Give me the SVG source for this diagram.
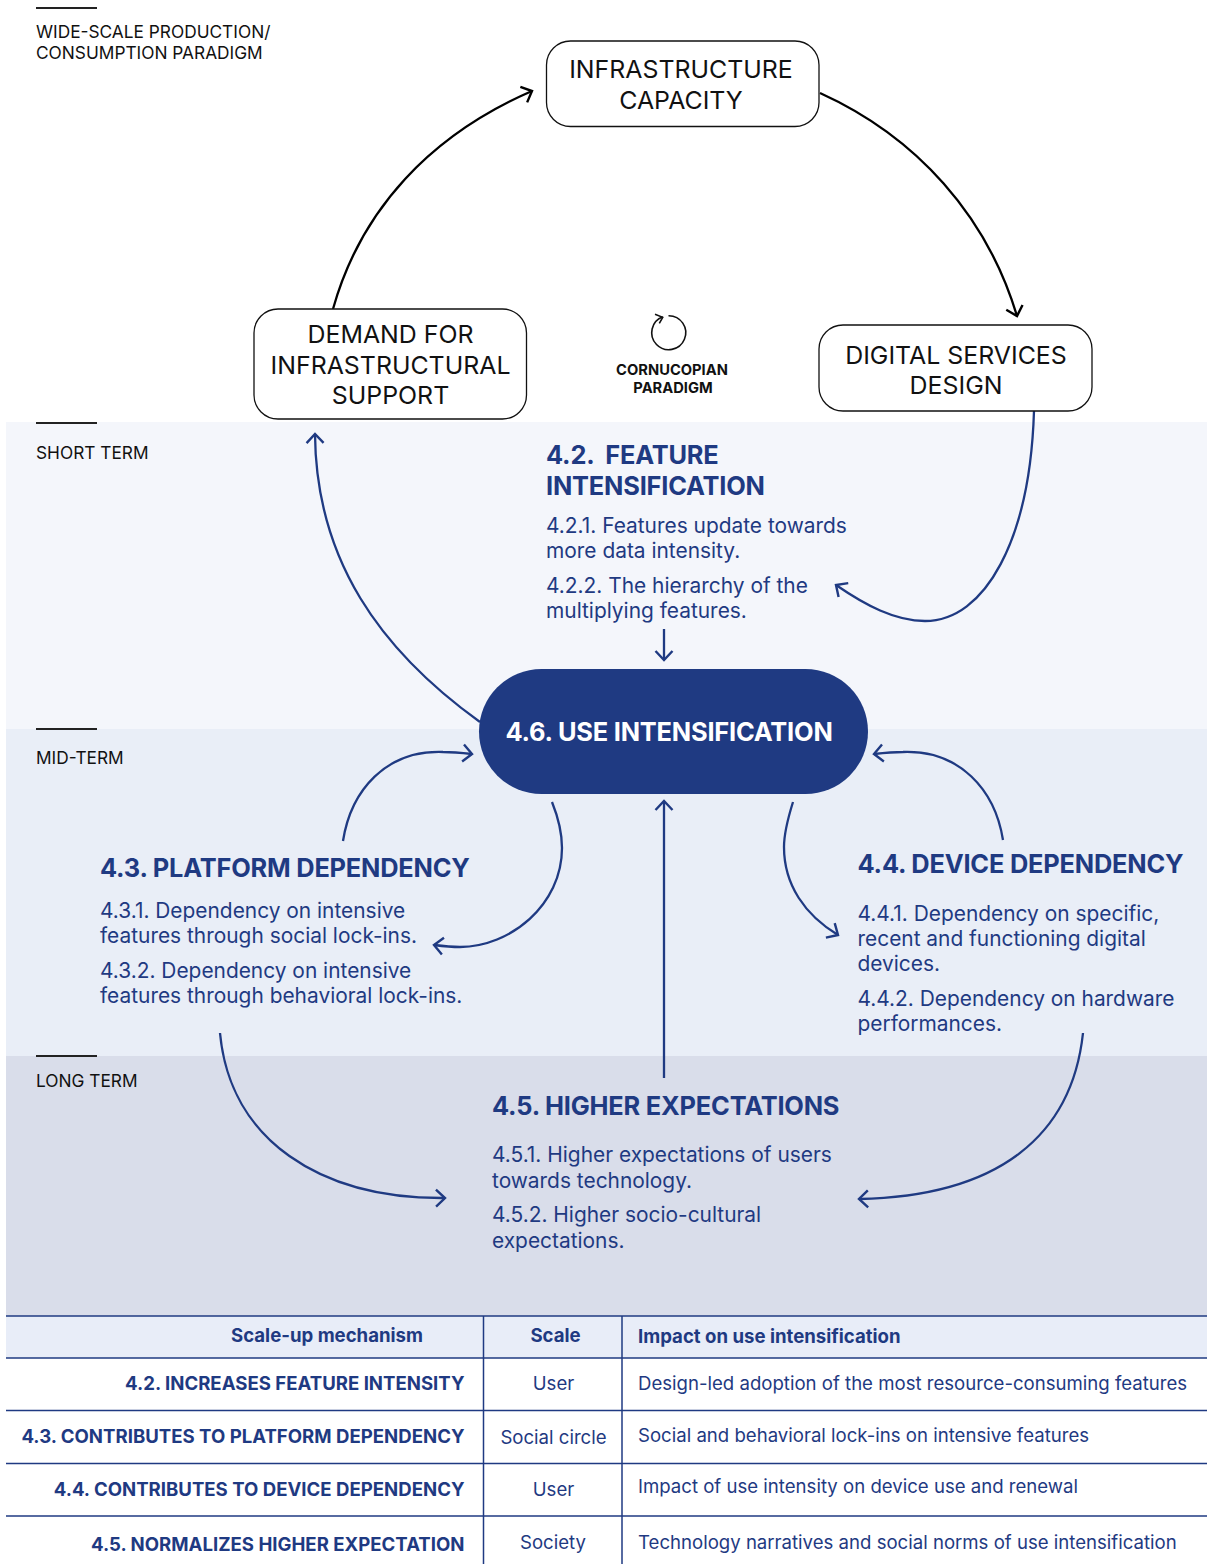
<svg xmlns="http://www.w3.org/2000/svg" width="1207" height="1564" viewBox="0 0 1207 1564">
<defs>
<marker id="ab" markerUnits="userSpaceOnUse" markerWidth="24" markerHeight="24" refX="14" refY="12" orient="auto"><path d="M5 3.500L14 12L5 20.500" fill="none" stroke="#000" stroke-width="2.400"/></marker>
<marker id="an" markerUnits="userSpaceOnUse" markerWidth="24" markerHeight="24" refX="14" refY="12" orient="auto"><path d="M5 3.500L14 12L5 20.500" fill="none" stroke="#1f3a82" stroke-width="2.400"/></marker>
</defs>
<style>
text{font-family:Inter,"Liberation Sans",sans-serif}
.box{fill:#fff;stroke:#111;stroke-width:1.300}
.bt{font-size:24.900px;fill:#111;text-anchor:middle}
.lab{font-size:17.300px;fill:#111}
.rule{stroke:#222;stroke-width:2}
.cb{fill:none;stroke:#000;stroke-width:2.300;marker-end:url(#ab)}
.cn{fill:none;stroke:#1f3a82;stroke-width:2.300;marker-end:url(#an)}
.h{font-size:25.400px;font-weight:700;fill:#1f3a82;letter-spacing:-0.2px}
.p{font-size:20.900px;fill:#1f3a82}
.tl{stroke:#1f3a82;stroke-width:1.500}
.th{font-size:18.600px;font-weight:700;fill:#1f3a82}
.td{font-size:18.600px;fill:#1f3a82}
.m{text-anchor:middle}.e{text-anchor:end}
</style>
<g id="bands">
<rect x="6" y="422" width="1201" height="307" fill="#f4f6fb"/>
<rect x="6" y="729" width="1201" height="327" fill="#e9eef7"/>
<rect x="6" y="1056" width="1201" height="260" fill="#d9ddea"/>
<rect x="6" y="1316" width="1201" height="42" fill="#e8edf8"/>
</g>
<g id="labels">
<line class="rule" x1="36" y1="8" x2="97" y2="8"/>
<text class="lab"><tspan x="36" y="38">WIDE-SCALE PRODUCTION/</tspan><tspan x="36" y="59">CONSUMPTION PARADIGM</tspan></text>
<line class="rule" x1="36" y1="423" x2="97" y2="423"/>
<text class="lab" x="36" y="459">SHORT TERM</text>
<line class="rule" x1="36" y1="729" x2="97" y2="729"/>
<text class="lab" x="36" y="764">MID-TERM</text>
<line class="rule" x1="36" y1="1056" x2="97" y2="1056"/>
<text class="lab" x="36" y="1087">LONG TERM</text>
</g>
<g id="connectors">
<path class="cb" d="M333 309C361 209 431 135 532 91"/>
<path class="cb" d="M820 93C917 137 987 216 1017 316"/>
<path class="cn" d="M1034 411C1030 540 985 621 925 621C895 621 865 605 836 585"/>
<path class="cn" d="M480 722C380 650 316 560 315 434"/>
<path class="cn" d="M664 629V660"/>
<path class="cn" d="M343 841C351 790 386 750 443 752C453 752 463 753 472 754"/>
<path class="cn" d="M552 802C560 822 562 838 562 848C562 905 510 947 460 947C450 947 442 946 434 945"/>
<path class="cn" d="M1003 840C995 790 960 750 903 752C892 752 883 753 874 754"/>
<path class="cn" d="M793 802C788 818 784 832 784 847C784 885 805 915 838 935"/>
<path class="cn" d="M664 1078V801"/>
<path class="cn" d="M220 1033C230 1140 320 1199 445 1198"/>
<path class="cn" d="M1083 1033C1072 1135 1000 1196 859 1199"/>
</g>
<g id="infrastructure-capacity">
<rect class="box" x="546.500" y="41" width="272.500" height="85.500" rx="24"/>
<text class="bt"><tspan x="681" y="78">INFRASTRUCTURE</tspan><tspan x="681" y="108.500">CAPACITY</tspan></text>
</g>
<g id="demand">
<rect class="box" x="254" y="309" width="272.500" height="110" rx="24"/>
<text class="bt"><tspan x="390.500" y="343">DEMAND FOR</tspan><tspan x="390.500" y="374">INFRASTRUCTURAL</tspan><tspan x="390.500" y="404">SUPPORT</tspan></text>
</g>
<g id="digital-services">
<rect class="box" x="819" y="325" width="273" height="86" rx="24"/>
<text class="bt"><tspan x="956" y="364">DIGITAL SERVICES</tspan><tspan x="956" y="394">DESIGN</tspan></text>
</g>
<g id="cornucopian">
<path d="M668.500 315.700A17 17 0 1 1 662.700 316.800" fill="none" stroke="#111" stroke-width="1.600"/>
<path d="M655 314.300L662.700 317.300L659.300 323.300" fill="none" stroke="#111" stroke-width="1.600"/>
<text font-size="14.700" font-weight="700" fill="#111" class="m"><tspan x="672" y="375">CORNUCOPIAN</tspan><tspan x="673" y="393">PARADIGM</tspan></text>
</g>
<g id="n42">
<text class="h" xml:space="preserve"><tspan x="546" y="464">4.2.  FEATURE</tspan><tspan x="546" y="495">INTENSIFICATION</tspan></text>
<text class="p"><tspan x="546" y="533">4.2.1. Features update towards</tspan><tspan x="546" y="558">more data intensity.</tspan><tspan x="546" y="593">4.2.2. The hierarchy of the</tspan><tspan x="546" y="618">multiplying features.</tspan></text>
</g>
<g id="n46">
<rect x="479" y="669" width="389" height="125" rx="62.500" fill="#1f3a82"/>
<text class="h m" x="669" y="741" style="fill:#fff">4.6. USE INTENSIFICATION</text>
</g>
<g id="n43">
<text class="h" x="100" y="877">4.3. PLATFORM DEPENDENCY</text>
<text class="p"><tspan x="100" y="918">4.3.1. Dependency on intensive</tspan><tspan x="100" y="943">features through social lock-ins.</tspan><tspan x="100" y="978">4.3.2. Dependency on intensive</tspan><tspan x="100" y="1003">features through behavioral lock-ins.</tspan></text>
</g>
<g id="n44">
<text class="h" x="857.500" y="873">4.4. DEVICE DEPENDENCY</text>
<text class="p"><tspan x="857.500" y="920.500">4.4.1. Dependency on specific,</tspan><tspan x="857.500" y="945.500">recent and functioning digital</tspan><tspan x="857.500" y="970.500">devices.</tspan><tspan x="857.500" y="1006">4.4.2. Dependency on hardware</tspan><tspan x="857.500" y="1031">performances.</tspan></text>
</g>
<g id="n45">
<text class="h" x="492" y="1115">4.5. HIGHER EXPECTATIONS</text>
<text class="p"><tspan x="492" y="1162">4.5.1. Higher expectations of users</tspan><tspan x="492" y="1187.500">towards technology.</tspan><tspan x="492" y="1222">4.5.2. Higher socio-cultural</tspan><tspan x="492" y="1247.500">expectations.</tspan></text>
</g>
<g id="table">
<line class="tl" x1="6" y1="1316" x2="1207" y2="1316"/>
<line class="tl" x1="6" y1="1358" x2="1207" y2="1358"/>
<line class="tl" x1="6" y1="1410.500" x2="1207" y2="1410.500"/>
<line class="tl" x1="6" y1="1463.500" x2="1207" y2="1463.500"/>
<line class="tl" x1="6" y1="1516" x2="1207" y2="1516"/>
<line class="tl" x1="483.500" y1="1316" x2="483.500" y2="1564"/>
<line class="tl" x1="622" y1="1316" x2="622" y2="1564"/>
<text class="th e" x="423" y="1342">Scale-up mechanism</text>
<text class="th m" x="555.500" y="1342">Scale</text>
<text class="th" x="638" y="1343">Impact on use intensification</text>
<text class="th e" x="464.500" y="1390">4.2. INCREASES FEATURE INTENSITY</text>
<text class="td m" x="553.500" y="1390">User</text>
<text class="td" x="638" y="1390">Design-led adoption of the most resource-consuming features</text>
<text class="th e" x="464.500" y="1443">4.3. CONTRIBUTES TO PLATFORM DEPENDENCY</text>
<text class="td m" x="553.500" y="1444">Social circle</text>
<text class="td" x="638" y="1442">Social and behavioral lock-ins on intensive features</text>
<text class="th e" x="464.500" y="1496">4.4. CONTRIBUTES TO DEVICE DEPENDENCY</text>
<text class="td m" x="553.500" y="1496">User</text>
<text class="td" x="638" y="1493">Impact of use intensity on device use and renewal</text>
<text class="th e" x="464.500" y="1551">4.5. NORMALIZES HIGHER EXPECTATION</text>
<text class="td m" x="553" y="1549">Society</text>
<text class="td" x="638" y="1549">Technology narratives and social norms of use intensification</text>
</g>
</svg>
